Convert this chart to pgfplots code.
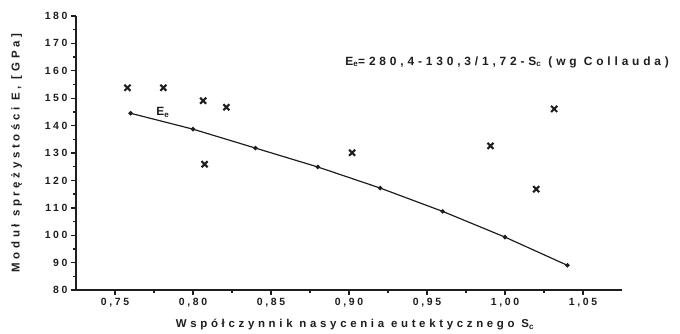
\documentclass[border=0pt]{standalone}
\usepackage{fontspec}
\setmainfont{Liberation Sans Bold}[LetterSpace=25]
\newfontfamily\lab{Liberation Sans Bold}[LetterSpace=32]
\usepackage{pgfplots}
\pgfplotsset{compat=1.18}
\definecolor{ink}{HTML}{1E1E1E}
\begin{document}
\begin{tikzpicture}[x=1bp,y=1bp]
\path[use as bounding box] (-76,-43) rectangle (604,290);
\begin{axis}[
  at={(0,0)}, anchor=south west,
  scale only axis,
  width=546bp, height=274bp,
  xmin=0.725, xmax=1.075, ymin=80, ymax=180,
  axis x line=bottom, axis y line=left,
  axis line style={-, line width=1.8pt, ink},
  xtick={0.75,0.80,0.85,0.90,0.95,1.00,1.05},
  ytick={80,90,100,110,120,130,140,150,160,170,180},
  minor x tick num=1, minor y tick num=1,
  tick align=outside,
  major tick length=5bp, minor tick length=3bp,
  every tick/.style={ink, line width=1.4pt},
  xticklabel style={/pgf/number format/.cd, use comma, fixed, fixed zerofill, precision=2},
  yticklabel style={/pgf/number format/.cd, fixed, precision=0},
  /pgf/number format/assume math mode=true,
  ticklabel style={font=\fontsize{10.5}{12}\selectfont, text=ink},
  xlabel={Współczynnik nasycenia eutektycznego S\textsubscript{c}},
  ylabel={Moduł sprężystości E, [GPa]},
  label style={font=\lab\fontsize{11.5}{13}\selectfont, text=ink},
  xlabel style={xshift=6bp, yshift=-5bp},
  ylabel style={yshift=16bp},
  clip=false,
]
\addplot[ink, line width=1.2pt, mark=*, mark size=1.6pt] coordinates {
  (0.76,144.5) (0.80,138.7) (0.84,131.8) (0.88,124.9)
  (0.92,117.2) (0.96,108.7) (1.00,99.3) (1.04,89.0)
};
\addplot[ink, only marks, mark=x, mark size=4.3pt, mark options={line width=2.1pt}] coordinates {
  (0.758,153.8) (0.781,153.8) (0.8065,149.1) (0.8214,146.7) (0.8074,125.9)
  (0.902,130.1) (0.9907,132.6) (1.020,116.8) (1.0315,146.1)
};
\node[font=\lab\fontsize{12}{13}\selectfont, text=ink] at (axis cs:0.7806,144.8) {E\textsubscript{e}};
\node[anchor=west, font=\lab\fontsize{12}{13}\selectfont, text=ink, inner sep=0pt] at (axis cs:0.8975,163.2) {E\textsubscript{e}=280,4-130,3/1,72-S\textsubscript{c} (wg Collauda)};
\end{axis}
\end{tikzpicture}
\end{document}
